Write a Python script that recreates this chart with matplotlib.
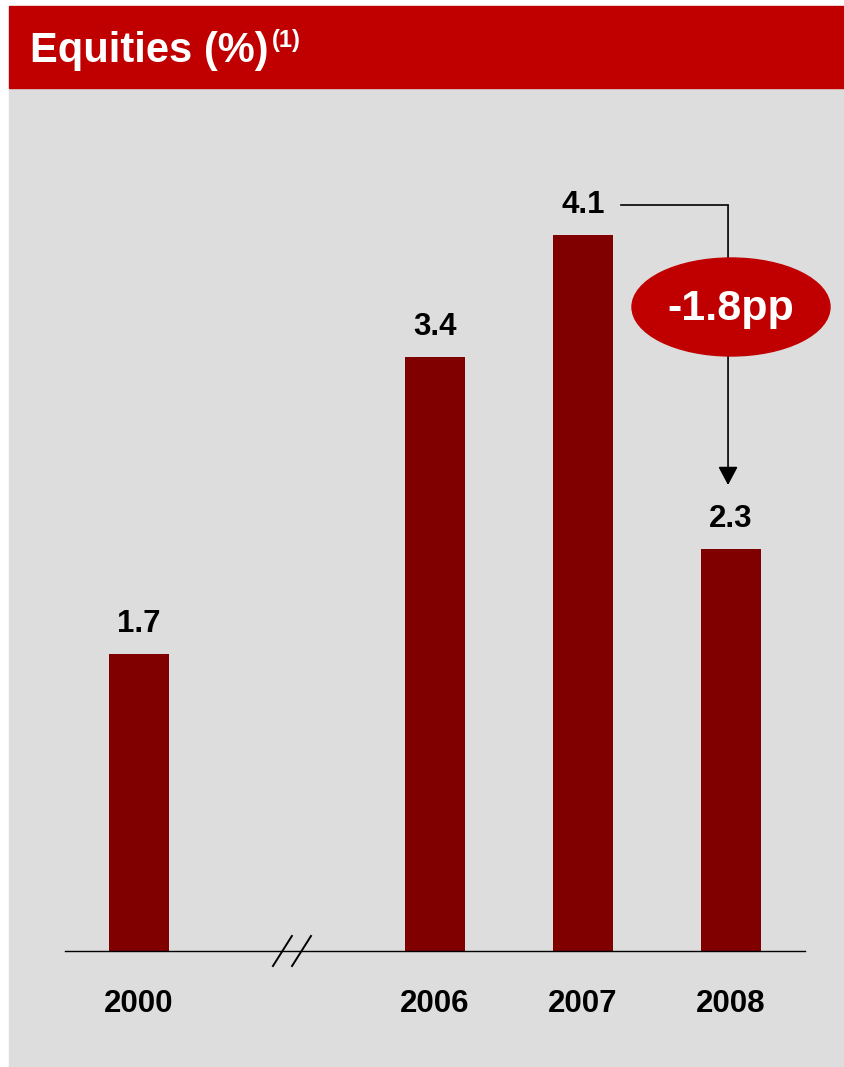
import matplotlib.pyplot as plt
from matplotlib.patches import Ellipse, Rectangle

plt.rcParams['font.family'] = ['Liberation Sans', 'DejaVu Sans']

# data
years = ['2000', '2006', '2007', '2008']
positions = [0, 2, 3, 4]          # gap at 1 marks the axis break
equities = [1.7, 3.4, 4.1, 2.3]
change_label = '-1.8pp'

BAR = '#800000'
RED = '#C00000'
GREY = '#DDDDDD'

W, H = 845, 1067
fig = plt.figure(figsize=(W / 100, H / 100), dpi=100)
fig.patch.set_facecolor('white')

# background panel + header band (figure pixel coords)
fig.patches.append(Rectangle((9 / W, 0), 1 - 9 / W, (H - 88) / H,
                             transform=fig.transFigure, color=GREY, zorder=-10))
fig.patches.append(Rectangle((9 / W, (H - 88) / H), 1 - 9 / W, 82 / H,
                             transform=fig.transFigure, color=RED, zorder=-10))
fig.text(30 / W, (H - 51) / H, 'Equities (%)', color='white',
         fontsize=30, fontweight='bold', va='center', ha='left')
fig.text(272 / W, (H - 41) / H, '(1)', color='white',
         fontsize=17, fontweight='bold', va='center', ha='left')

# axes: x from 65 to 805 px, baseline at y=951 px
px_per_unit = 174.6
ylim_top = 4.6
ax = fig.add_axes([65 / W, (H - 951) / H, 740 / W, ylim_top * px_per_unit / H])
ax.set_facecolor('none')
ax.set_xlim(-0.5, 4.5)
ax.set_ylim(0, ylim_top)

ax.bar(positions, equities, width=0.41, color=BAR, zorder=2)
for x, v in zip(positions, equities):
    ax.annotate(f'{v:.1f}', (x, v), xytext=(0, 11), textcoords='offset points',
                ha='center', va='bottom', fontsize=22.5, fontweight='bold')

for s in ['top', 'right', 'left']:
    ax.spines[s].set_visible(False)
ax.spines['bottom'].set_linewidth(1.0)
ax.set_yticks([])
ax.set_xticks(positions, years)
ax.tick_params(axis='x', length=0, pad=27, labelsize=22.5)
for t in ax.get_xticklabels():
    t.set_fontweight('bold')

# axis break marks
for x0 in [0.905, 1.034]:
    ax.plot([x0, x0 + 0.128], [-0.086, 0.086], color='black', lw=1.4,
            clip_on=False, zorder=3)

# change annotation: bracket from 2007 label down to 2008
y_top = 4.27
ax.plot([3.26, 3.98], [y_top, y_top], color='black', lw=1.2, zorder=3)
ax.annotate('', xy=(3.98, (951 - 485) / px_per_unit), xytext=(3.98, y_top),
            arrowprops=dict(arrowstyle='-|>,head_length=0.75,head_width=0.4',
                            color='black', lw=1.2,
                            mutation_scale=15, shrinkA=0, shrinkB=0), zorder=3)
ell = Ellipse((4.0, (951 - 307) / px_per_unit), 198 / 148, 98 / px_per_unit,
              color=RED, zorder=4, clip_on=False)
ax.add_patch(ell)
ax.text(4.0, (951 - 309) / px_per_unit, change_label, color='white', fontsize=31,
        fontweight='bold', ha='center', va='center', zorder=5)

fig.savefig('out.png', dpi=100)
plt.close()
